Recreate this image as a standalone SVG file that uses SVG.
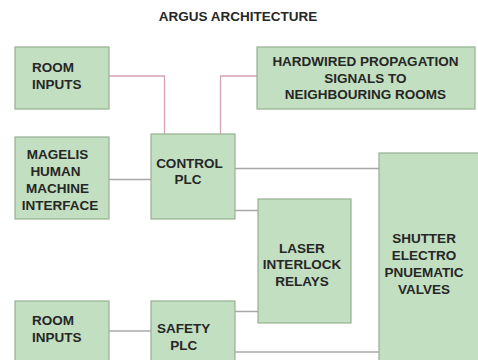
<svg xmlns="http://www.w3.org/2000/svg" width="478" height="360" viewBox="0 0 478 360">
<style>
.box{fill:#c3dfc1;stroke:#94b192;stroke-width:1.2}
.t{font-family:"Liberation Sans",Arial,sans-serif;font-weight:bold;font-size:13.5px;fill:#262626}
.c{text-anchor:middle}
.pink{fill:none;stroke:#d6a3b3;stroke-width:1.3}
.gray{fill:none;stroke:#a8a8a8;stroke-width:1.5}
</style>
<rect width="478" height="360" fill="#ffffff"/>
<text x="238" y="21" class="t c" style="font-size:13.5px">ARGUS ARCHITECTURE</text>
<g id="connectors">
<polyline class="pink" points="109,76 164.5,76 164.5,134"/>
<polyline class="pink" points="257,76 220.5,76 220.5,134"/>
<line class="gray" x1="109" y1="179.5" x2="151" y2="179.5"/>
<line class="gray" x1="235" y1="168.5" x2="379" y2="168.5"/>
<line class="gray" x1="235" y1="210.5" x2="258" y2="210.5"/>
<line class="gray" x1="109" y1="331" x2="151" y2="331"/>
<line class="gray" x1="235" y1="311.5" x2="258" y2="311.5"/>
<line class="gray" x1="235" y1="352" x2="379" y2="352"/>
</g>
<g id="room-inputs-1">
<rect class="box" x="15" y="47" width="94" height="62"/>
<text class="t" x="32" y="72">ROOM</text>
<text class="t" x="32" y="88.5">INPUTS</text>
</g>
<g id="hardwired">
<rect class="box" x="257" y="47" width="218" height="62"/>
<text class="t c" x="365.5" y="66">HARDWIRED PROPAGATION</text>
<text class="t c" x="365.5" y="82.5">SIGNALS TO</text>
<text class="t c" x="365.5" y="99">NEIGHBOURING ROOMS</text>
</g>
<g id="magelis">
<rect class="box" x="15" y="137" width="94" height="82"/>
<text class="t c" x="57.5" y="159">MAGELIS</text>
<text class="t c" x="55.5" y="175.7">HUMAN</text>
<text class="t c" x="57.5" y="192.7">MACHINE</text>
<text class="t c" x="60" y="210">INTERFACE</text>
</g>
<g id="control-plc">
<rect class="box" x="151" y="134" width="84" height="85"/>
<text class="t c" x="189.5" y="167.7">CONTROL</text>
<text class="t c" x="188" y="184.3">PLC</text>
</g>
<g id="laser-relays">
<rect class="box" x="258" y="199" width="93" height="124"/>
<text class="t c" x="302" y="252.7">LASER</text>
<text class="t c" x="302" y="269">INTERLOCK</text>
<text class="t c" x="302" y="286">RELAYS</text>
</g>
<g id="shutter-valves">
<rect class="box" x="379" y="153" width="105" height="220"/>
<text class="t c" x="424" y="243.3">SHUTTER</text>
<text class="t c" x="424" y="260">ELECTRO</text>
<text class="t c" x="424" y="276.7">PNUEMATIC</text>
<text class="t c" x="424" y="294">VALVES</text>
</g>
<g id="room-inputs-2">
<rect class="box" x="15" y="301" width="94" height="70"/>
<text class="t" x="32" y="325">ROOM</text>
<text class="t" x="32" y="342">INPUTS</text>
</g>
<g id="safety-plc">
<rect class="box" x="151" y="301" width="84" height="70"/>
<text class="t c" x="183.7" y="333.3">SAFETY</text>
<text class="t c" x="183.7" y="350">PLC</text>
</g>
</svg>
